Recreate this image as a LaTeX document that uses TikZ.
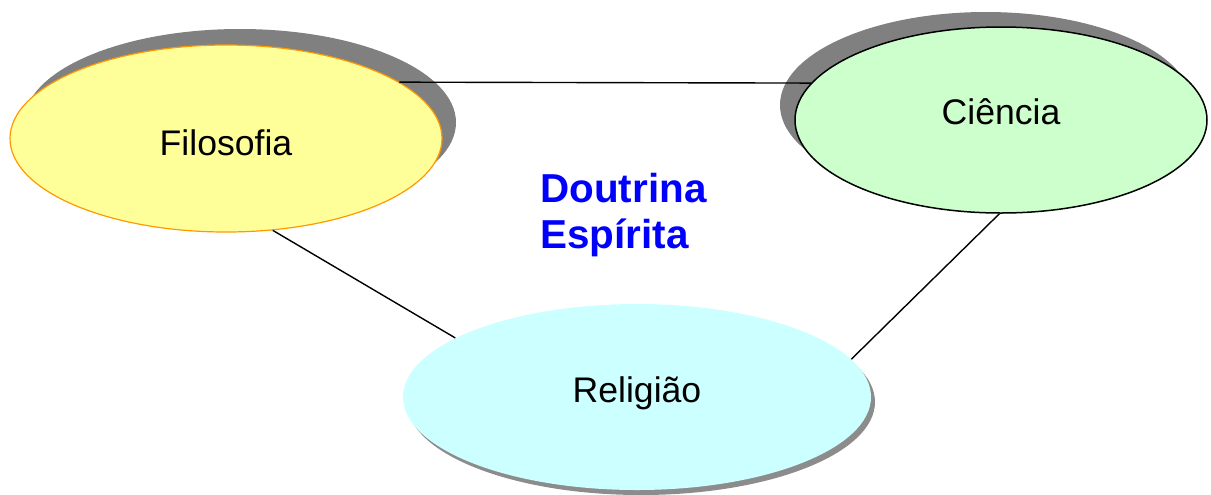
\documentclass[tikz,border=0pt]{standalone}
\usepackage{fontspec}
\setmainfont{Liberation Sans}
\usepackage{tikz}
\usetikzlibrary{shapes.geometric,shadows}

\definecolor{filfill}{HTML}{FFFF99}
\definecolor{filedge}{HTML}{FF9900}
\definecolor{ciefill}{HTML}{CCFFCC}
\definecolor{relfill}{HTML}{CCFFFF}
\definecolor{shade}{HTML}{808080}
\definecolor{doutblue}{HTML}{0000FF}

\begin{document}
\begin{tikzpicture}[
    x=0.5pt, y=-0.5pt,
    area/.style={ellipse, inner sep=0pt},
    word/.style={font=\fontsize{17.8}{21}\selectfont, anchor=base, inner sep=0pt},
    link/.style={line width=0.7pt}
]
\useasboundingbox (0,0) rectangle (1211,494);

% Nodes
\node[area, minimum width=216pt, minimum height=93.5pt, fill=filfill, draw=filedge, line width=0.6pt,
      drop shadow={shadow xshift=7pt, shadow yshift=8pt, fill=shade, opacity=1}] (fil) at (226,138.5) {};
\node[area, minimum width=206pt, minimum height=93pt, fill=ciefill, draw=black, line width=0.75pt,
      drop shadow={shadow xshift=-7.5pt, shadow yshift=7.5pt, fill=shade, opacity=1}] (cie) at (1001,120) {};
\node[area, minimum width=234pt, minimum height=93pt, fill=relfill,
      drop shadow={shadow xshift=2pt, shadow yshift=-2.5pt, fill=shade, opacity=0.9}] (rel) at (637,397) {};

\node[word] (filtxt) at ([yshift=-8.25pt]fil.center) {Filosofia};
\node[word] (cietxt) at ([yshift=-2pt]cie.center) {Ciência};
\node[word] (reltxt) at ([yshift=-2.5pt]rel.center) {Religião};

\node[font=\fontsize{20.2}{23}\selectfont\bfseries, text=doutblue, align=left, anchor=base west, inner sep=0pt]
    (dout) at (540,248) {Doutrina\\Espírita};

% Lines
\draw[link] (fil.18) -- (cie.169);
\draw[link] (fil.-63) -- (rel.162);
\draw[link] (rel.10) -- (cie.-91);

\end{tikzpicture}
\end{document}
